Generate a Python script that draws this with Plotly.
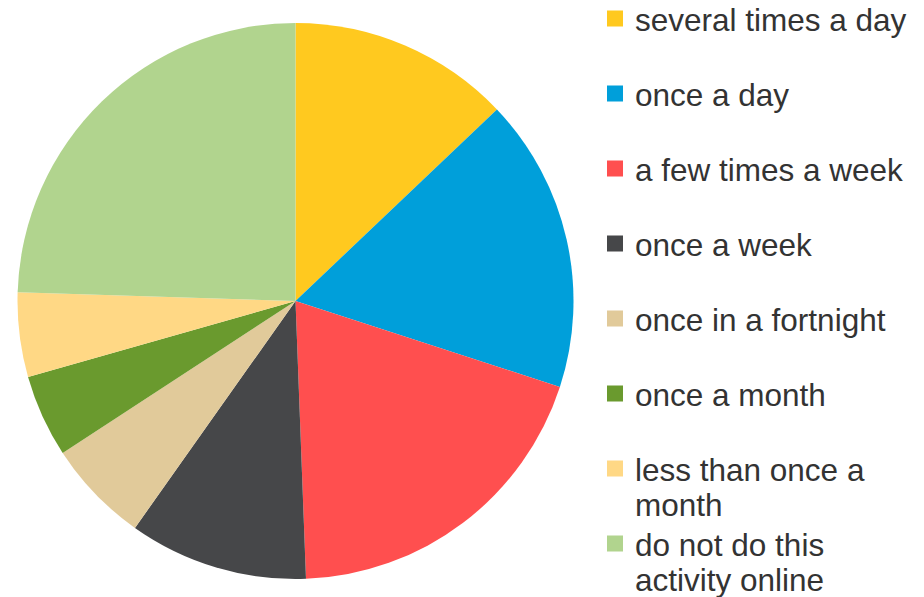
import plotly.graph_objects as go

categories = [
    "several times a day",
    "once a day",
    "a few times a week",
    "once a week",
    "once in a fortnight",
    "once a month",
    "less than once a<br>month",
    "do not do this<br>activity online",
]
values = [12.9, 17.1, 19.4, 10.4, 6.0, 4.8, 4.9, 24.5]
colors = ["#FFC91F", "#009FDA", "#FF4F4F", "#464749", "#E1CA9A", "#6A9A2E", "#FFD885", "#B1D48E"]

W, H = 924, 597
FONT = dict(family="Liberation Sans, Arial", size=31.5, color="#333333")
fig = go.Figure()
fig.add_trace(go.Pie(
    labels=[c.replace("<br>", " ") for c in categories], values=values, sort=False,
    direction="clockwise", rotation=0,
    marker=dict(colors=colors, line=dict(width=0)), textinfo="none", showlegend=False,
    domain=dict(x=[17 / W, 574 / W], y=[(H - 579) / H, (H - 23) / H]),
))

layout_legends = {}
n = 0
for i, (name, col) in enumerate(zip(categories, colors)):
    for j, line in enumerate(name.split("<br>")):
        key = "legend" if n == 0 else f"legend{n+1}"
        n += 1
        fig.add_trace(go.Scatter(
            x=[None], y=[None], mode="markers", name=line, legend=key,
            marker=dict(symbol="square", size=16,
                        color=col if j == 0 else "rgba(0,0,0,0)", line=dict(width=0)),
            hoverinfo="skip",
        ))
        cy = 18.5 + 75 * i + 35.5 * j
        layout_legends[key] = dict(
            x=595 / W, xanchor="left", y=(H - cy) / H, yanchor="middle",
            font=FONT, bgcolor="rgba(0,0,0,0)", borderwidth=0, itemclick=False,
        )

fig.update_layout(
    width=W, height=H, margin=dict(l=0, r=0, t=0, b=0, autoexpand=False),
    paper_bgcolor="white", plot_bgcolor="white",
    xaxis=dict(visible=False), yaxis=dict(visible=False),
    **layout_legends,
)
fig.write_html("out.html")
